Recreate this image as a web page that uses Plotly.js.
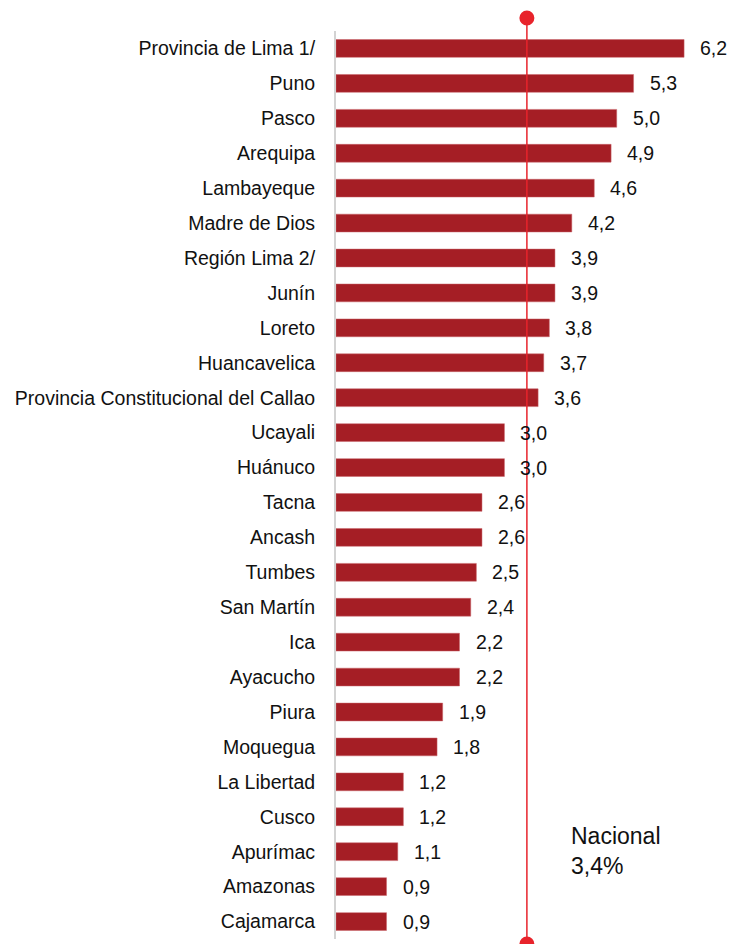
<!DOCTYPE html>
<html>
<head>
<meta charset="utf-8">
<script src="https://cdn.plot.ly/plotly-3.0.1.min.js"></script>
<style>html,body{margin:0;padding:0;background:#fff;}#chart{width:729px;height:944px;}</style>
</head>
<body>
<div id="chart"></div>
<script>
const regions = ["Provincia de Lima 1/","Puno","Pasco","Arequipa","Lambayeque","Madre de Dios","Región Lima 2/","Junín","Loreto","Huancavelica","Provincia Constitucional del Callao","Ucayali","Huánuco","Tacna","Ancash","Tumbes","San Martín","Ica","Ayacucho","Piura","Moquegua","La Libertad","Cusco","Apurímac","Amazonas","Cajamarca"];
const values = [6.2,5.3,5.0,4.9,4.6,4.2,3.9,3.9,3.8,3.7,3.6,3.0,3.0,2.6,2.6,2.5,2.4,2.2,2.2,1.9,1.8,1.2,1.2,1.1,0.9,0.9];
const labels = values.map(v => v.toFixed(1).replace('.', ','));
const nationalValue = 3.4;
const nationalLabel = "Nacional<br>3,4%";

const FONT = '"Liberation Sans", Arial, sans-serif';

const trace = {
  type: 'bar',
  orientation: 'h',
  x: values,
  y: regions,
  marker: {color: '#a51e25', line: {color: '#c9646a', width: 0.5}},
  width: 0.51,
  hoverinfo: 'skip'
};

const valueAnnotations = values.map((v, i) => ({
  x: v, y: regions[i], xref: 'x', yref: 'y',
  text: labels[i], showarrow: false, xanchor: 'left', yanchor: 'middle',
  xshift: 14, font: {family: FONT, size: 19.5, color: '#111'}
}));

const plotW = 729 - 336, plotH = 944 - 30.5 - 4.5;
valueAnnotations.push({
  x: (569 - 336) / plotW, y: (939.5 - 851) / plotH, xref: 'paper', yref: 'paper',
  text: nationalLabel, showarrow: false, xanchor: 'left', yanchor: 'middle', align: 'left',
  font: {family: FONT, size: 23, color: '#111'}
});

const layout = {
  width: 729, height: 944,
  margin: {l: 336, r: 0, t: 30.5, b: 4.5},
  paper_bgcolor: '#fff', plot_bgcolor: '#fff',
  showlegend: false,
  xaxis: {range: [0, 7.0], showgrid: false, zeroline: false, showticklabels: false, showline: false},
  yaxis: {autorange: 'reversed', showgrid: false, zeroline: false, showline: true, linecolor: '#d3d3d3', linewidth: 2,
          ticks: '', ticklabelstandoff: 15, tickfont: {family: FONT, size: 19.5, color: '#111'}},
  shapes: [
    {type: 'line', xref: 'x', yref: 'paper', x0: nationalValue, x1: nationalValue, y0: -0.0055, y1: 1.0143,
     line: {color: '#e8232b', width: 1.5}},
    {type: 'circle', xref: 'x', yref: 'paper', xsizemode: 'pixel', ysizemode: 'pixel',
     xanchor: nationalValue, yanchor: 1.0143, x0: -7.5, x1: 7.5, y0: -7.5, y1: 7.5,
     fillcolor: '#e8232b', line: {width: 0}},
    {type: 'circle', xref: 'x', yref: 'paper', xsizemode: 'pixel', ysizemode: 'pixel',
     xanchor: nationalValue, yanchor: -0.0055, x0: -7.5, x1: 7.5, y0: -7.5, y1: 7.5,
     fillcolor: '#e8232b', line: {width: 0}}
  ],
  annotations: valueAnnotations
};

Plotly.newPlot('chart', [trace], layout, {displayModeBar: false, staticPlot: true});
</script>
</body>
</html>
